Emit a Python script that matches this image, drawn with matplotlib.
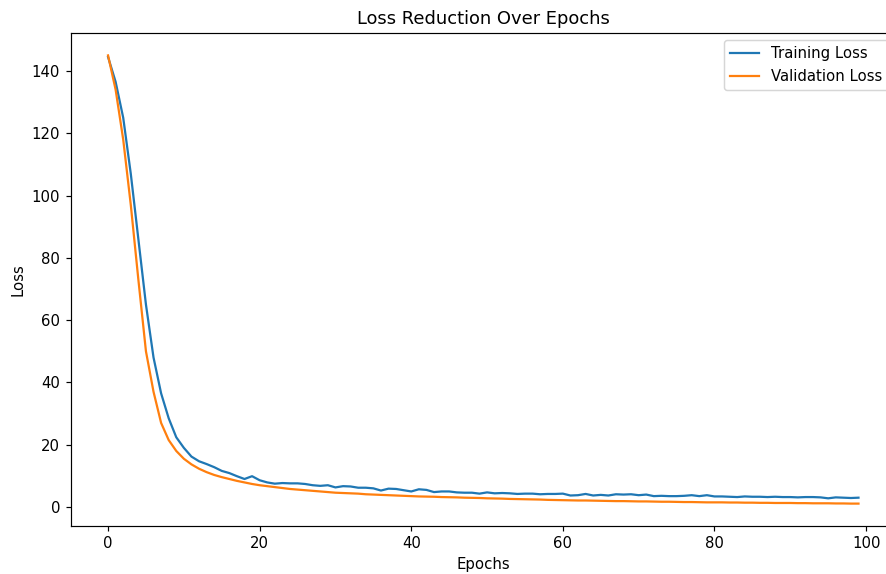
import matplotlib
matplotlib.use("Agg")
import matplotlib.pyplot as plt

epochs = list(range(100))

train_loss = [
    144.5, 136.5, 125.0, 107.0, 86.0, 65.0, 48.0, 36.5, 28.5, 22.4,
    19.0, 16.2, 14.7, 13.8, 12.8, 11.6, 10.9, 9.9, 9.0, 9.9,
    8.6, 7.9, 7.5, 7.7, 7.6, 7.6, 7.4, 7.0, 6.8, 7.0,
    6.3, 6.7, 6.6, 6.2, 6.2, 6.0, 5.3, 5.9, 5.8, 5.4,
    5.0, 5.7, 5.5, 4.8, 5.0, 5.0, 4.7, 4.6, 4.6, 4.3,
    4.7, 4.4, 4.5, 4.4, 4.2, 4.3, 4.3, 4.1, 4.2, 4.2,
    4.3, 3.7, 3.8, 4.2, 3.7, 3.9, 3.7, 4.1, 4.0, 4.1,
    3.8, 4.0, 3.5, 3.6, 3.5, 3.5, 3.6, 3.8, 3.5, 3.8,
    3.4, 3.4, 3.3, 3.2, 3.4, 3.3, 3.3, 3.2, 3.3, 3.2,
    3.2, 3.1, 3.2, 3.2, 3.1, 2.8, 3.1, 3.0, 2.9, 3.0,
]

val_loss = [
    145.0, 134.0, 118.0, 97.0, 73.0, 50.0, 37.0, 27.0, 21.5, 18.0,
    15.5, 13.7, 12.3, 11.2, 10.3, 9.6, 9.0, 8.4, 7.9, 7.4,
    7.0, 6.7, 6.4, 6.1, 5.8, 5.6, 5.4, 5.2, 5.0, 4.8,
    4.6, 4.5, 4.4, 4.3, 4.1, 4.0, 3.9, 3.8, 3.7, 3.6,
    3.5, 3.4, 3.35, 3.3, 3.2, 3.15, 3.1, 3.0, 2.95, 2.9,
    2.8, 2.75, 2.7, 2.6, 2.55, 2.5, 2.45, 2.4, 2.3, 2.25,
    2.2, 2.15, 2.1, 2.1, 2.05, 2.0, 1.95, 1.9, 1.9, 1.85,
    1.8, 1.8, 1.75, 1.7, 1.7, 1.65, 1.6, 1.6, 1.55, 1.5,
    1.5, 1.5, 1.45, 1.45, 1.4, 1.4, 1.35, 1.35, 1.3, 1.3,
    1.3, 1.25, 1.25, 1.2, 1.2, 1.2, 1.15, 1.15, 1.1, 1.1,
]

DPI = 107
fig = plt.figure(figsize=(886 / DPI, 574 / DPI), dpi=DPI)
# the reference is cropped on the right, so the axes run past the edge
ax = fig.add_axes([0.0796, 0.0836, 0.9317, 0.8589])

ax.plot(epochs, train_loss, label="Training Loss")
ax.plot(epochs, val_loss, label="Validation Loss")

ax.set_title("Loss Reduction Over Epochs")
ax.set_xlabel("Epochs")
ax.set_ylabel("Loss")
ax.spines["right"].set_visible(False)  # sits past the cropped edge anyway
ax.legend(loc="upper right")

fig.savefig("out.png", dpi=DPI)
